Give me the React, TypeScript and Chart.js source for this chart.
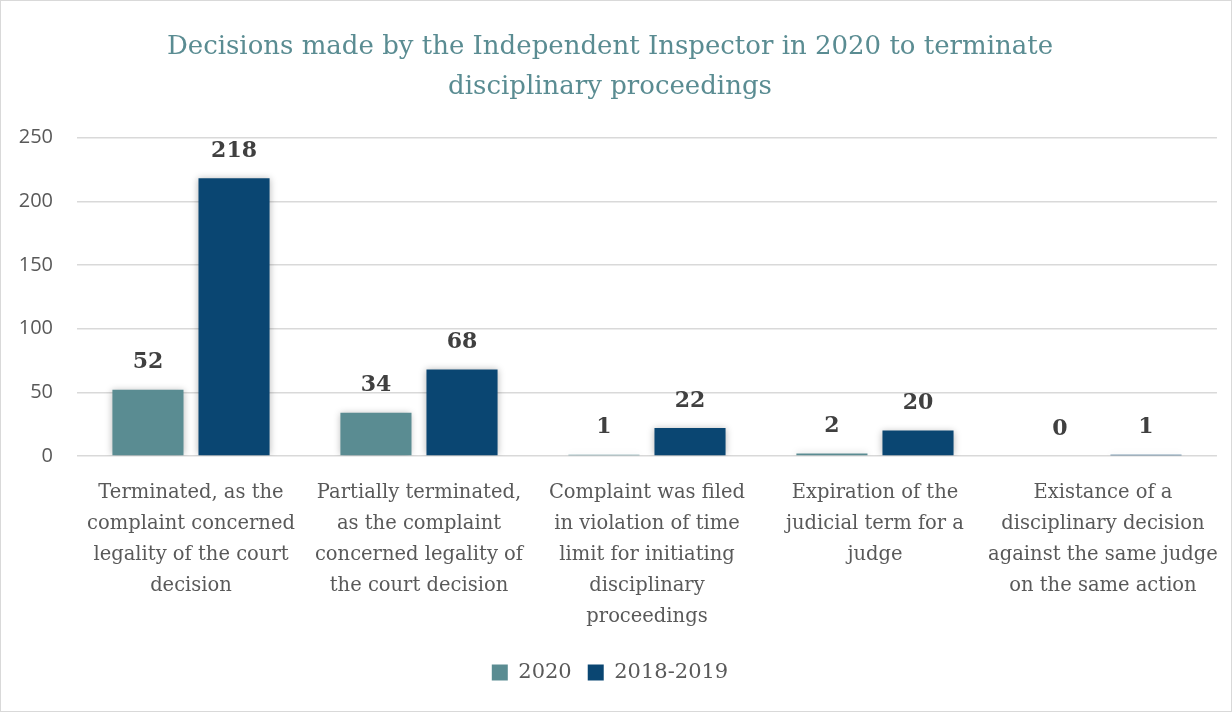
import React, { useEffect, useRef } from "react";
import { Chart, registerables } from "chart.js";

Chart.register(...registerables);

const titleLines = [
  "Decisions made by the Independent Inspector in 2020 to terminate",
  "disciplinary proceedings",
];
const categories: string[][] = [
  ["Terminated, as the", "complaint concerned", "legality of the court", "decision"],
  ["Partially terminated,", "as the complaint", "concerned legality of", "the court decision"],
  ["Complaint was filed", "in violation of time", "limit for initiating", "disciplinary", "proceedings"],
  ["Expiration of the", "judicial term for a", "judge"],
  ["Existance of a", "disciplinary decision", "against the same judge", "on the same action"],
];
const seriesNames = ["2020", "2018-2019"];
const values2020 = [52, 34, 1, 2, 0];
const values2018 = [218, 68, 22, 20, 1];
const yTicks = [0, 50, 100, 150, 200, 250];

const SERIF = "'DejaVu Serif', 'Liberation Serif', serif";
const SANS = "'Open Sans', 'Liberation Sans', sans-serif";

export default function App() {
  const ref = useRef<HTMLCanvasElement | null>(null);
  useEffect(() => {
    document.body.style.margin = "0";
    const canvas = ref.current!;
    const shadowPlugin = {
      id: "shadow",
      beforeDatasetsDraw(chart: any) {
        const ctx = chart.ctx;
        ctx.save();
        ctx.shadowColor = "rgba(0,0,0,0.28)";
        ctx.shadowBlur = 7;
        ctx.shadowOffsetX = 0;
        ctx.shadowOffsetY = 0;
      },
      afterDatasetsDraw(chart: any) {
        chart.ctx.restore();
        const ctx = chart.ctx;
        ctx.save();
        ctx.font = `bold 22px ${SERIF}`;
        ctx.fillStyle = "#404040";
        ctx.textAlign = "center";
        ctx.textBaseline = "middle";
        chart.data.datasets.forEach((ds: any, i: number) => {
          const meta = chart.getDatasetMeta(i);
          meta.data.forEach((el: any, j: number) => {
            ctx.fillText(String(ds.data[j]), el.x, el.y - 27);
          });
        });
        ctx.restore();
      },
    };
    const borderPlugin = {
      id: "frame",
      afterDraw(chart: any) {
        const ctx = chart.ctx;
        ctx.save();
        ctx.strokeStyle = "#d9d9d9";
        ctx.lineWidth = 1;
        ctx.strokeRect(0.5, 0.5, chart.width - 1, chart.height - 1);
        ctx.restore();
      },
    };
    const chart = new Chart(canvas, {
      type: "bar",
      data: {
        labels: categories,
        datasets: [
          {
            label: seriesNames[0],
            data: values2020,
            backgroundColor: "#5A8C92",
            categoryPercentage: 0.755,
            barPercentage: 0.826,
          },
          {
            label: seriesNames[1],
            data: values2018,
            backgroundColor: "#0A4672",
            categoryPercentage: 0.755,
            barPercentage: 0.826,
          },
        ],
      },
      options: {
        animation: false,
        responsive: false,
        maintainAspectRatio: false,
        layout: { padding: { left: 0, right: 12, top: 0, bottom: 19 } },
        plugins: {
          title: {
            display: true,
            text: titleLines,
            color: "#5A8C92",
            font: { family: SERIF, size: 26, weight: "normal", lineHeight: 1.55 },
            padding: { top: 27, bottom: 30 },
          },
          legend: {
            position: "bottom",
            labels: {
              boxWidth: 16,
              boxHeight: 16,
              color: "#595959",
              font: { family: SERIF, size: 21, weight: "normal" },
              padding: 16,
            },
          },
          tooltip: { enabled: false },
        },
        scales: {
          x: {
            grid: { display: false },
            border: { display: false },
            ticks: {
              color: "#595959",
              font: { family: SERIF, size: 19.5, lineHeight: 1.6 },
              padding: 13,
              maxRotation: 0,
              autoSkip: false,
            },
          },
          y: {
            min: 0,
            max: 250,
            afterFit(scale: any) {
              scale.width = 77;
            },
            afterBuildTicks(scale: any) {
              scale.ticks = yTicks.map((v) => ({ value: v }));
            },
            grid: { color: "#d9d9d9", lineWidth: 1.5, drawTicks: false },
            border: { display: false },
            ticks: {
              color: "#595959",
              font: { family: SANS, size: 20 },
              padding: 24,
            },
          },
        },
      },
      plugins: [shadowPlugin, borderPlugin],
    } as any);
    return () => chart.destroy();
  }, []);
  return (
    <div style={{ width: 1232, height: 712, background: "#fff" }}>
      <canvas ref={ref} width={1232} height={712} style={{ display: "block" }} />
    </div>
  );
}
